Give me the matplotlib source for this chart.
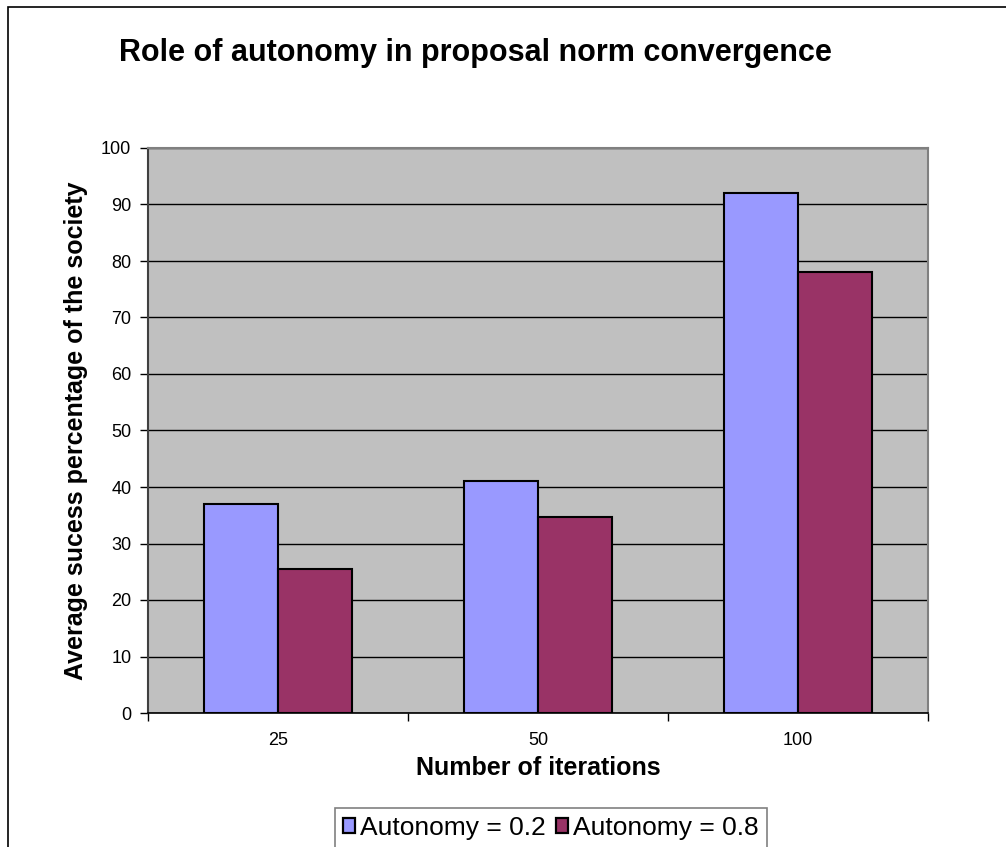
import matplotlib
matplotlib.use('Agg')
import matplotlib.pyplot as plt
from matplotlib.patches import Rectangle
import numpy as np

plt.rcParams['font.family'] = ['Liberation Sans', 'DejaVu Sans']

iterations = ['25', '50', '100']
autonomy_02 = [37, 41, 92]
autonomy_08 = [25.4, 34.7, 78]
series_labels = ['Autonomy = 0.2', 'Autonomy = 0.8']

fig = plt.figure(figsize=(10.06, 8.47), dpi=100)
ax = fig.add_axes([148/1006, (847-713)/847, 780/1006, 565/847])
ax.set_facecolor('#C0C0C0')

x = np.arange(len(iterations))
w = 0.2865
ax.bar(x - w/2, autonomy_02, w, color='#9999FF', edgecolor='black', linewidth=1.5,
       label=series_labels[0], zorder=3)
ax.bar(x + w/2, autonomy_08, w, color='#993366', edgecolor='black', linewidth=1.5,
       label=series_labels[1], zorder=3)

ax.set_xlim(-0.5, 2.5)
ax.set_ylim(0, 100)
ax.set_yticks(np.arange(0, 101, 10))
ax.yaxis.grid(True, color='black', linewidth=1.0, zorder=1)
ax.set_axisbelow(True)

# category boundaries get the ticks, the labels sit at the centres
ax.set_xticks([-0.5, 0.5, 1.5, 2.5])
ax.set_xticklabels([])
ax.set_xticks(x, minor=True)
ax.set_xticklabels(iterations, minor=True, fontsize=13)
ax.tick_params(axis='x', which='minor', length=0, pad=14)
ax.tick_params(axis='x', which='major', length=6, width=1, color='black')
ax.tick_params(axis='y', length=6, width=1, labelsize=13, pad=6, color='black')

for s in ['top', 'right']:
    ax.spines[s].set_color('#808080')
    ax.spines[s].set_linewidth(1.5)
ax.spines['left'].set_color('#404040')
ax.spines['left'].set_linewidth(1.5)
ax.spines['bottom'].set_color('black')
ax.spines['bottom'].set_linewidth(1.2)

ax.set_xlabel('Number of iterations', fontsize=18, fontweight='bold')
ax.xaxis.set_label_coords(0.5, (713-768)/565)
ax.xaxis.label.set_va('center')
ax.set_ylabel('Average sucess percentage of the society', fontsize=18, fontweight='bold')
ax.yaxis.set_label_coords((88-148)/780, 0.5)

fig.suptitle('Role of autonomy in proposal norm convergence', x=475/1006, y=1-53/847,
             va='center', fontsize=22, fontweight='bold')

leg = fig.legend(loc='upper center', bbox_to_anchor=(551/1006, 1-808/847), ncol=2,
                 fontsize=19, frameon=True, fancybox=False, edgecolor='#606060',
                 handlelength=0.45, handleheight=0.45, handletextpad=0.2,
                 columnspacing=0.4, borderpad=0.3, borderaxespad=0)
leg.get_frame().set_linewidth(1.2)
for h in leg.legend_handles:
    h.set_linewidth(1.6)

fig.patches.append(Rectangle((8/1006, -0.2), 1.5, 1.2 - 7/847, transform=fig.transFigure,
                             fill=False, edgecolor='black', linewidth=1.2))

fig.savefig('out.png', dpi=100)
